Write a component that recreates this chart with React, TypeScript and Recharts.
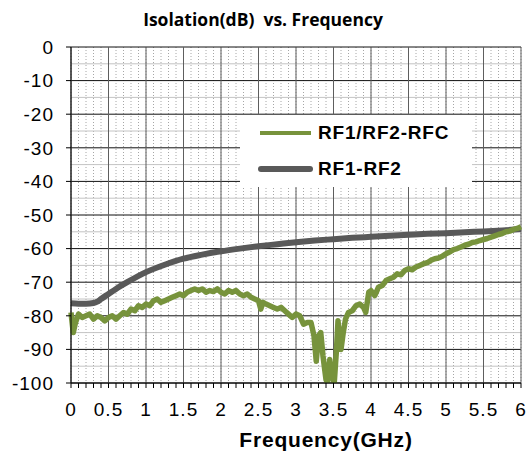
import { CartesianGrid, Legend, Line, LineChart, ReferenceLine, XAxis, YAxis } from "recharts";

// RF1/RF2-RFC isolation (green)
const rfcFreq = [
  0, 0.03, 0.06, 0.1, 0.15, 0.2, 0.25, 0.3, 0.35, 0.4, 0.45, 0.5, 0.55, 0.6, 0.65, 0.7, 0.75, 0.8, 0.85, 0.9,
  0.95, 1, 1.05, 1.1, 1.15, 1.2, 1.25, 1.3, 1.35, 1.4, 1.45, 1.5, 1.55, 1.6, 1.65, 1.7, 1.75, 1.8, 1.85, 1.9,
  1.95, 2, 2.05, 2.1, 2.15, 2.2, 2.25, 2.3, 2.35, 2.4, 2.45, 2.5, 2.53, 2.56, 2.6, 2.65, 2.7, 2.75, 2.8, 2.85,
  2.9, 2.95, 3, 3.05, 3.1, 3.15, 3.2, 3.24, 3.27, 3.3, 3.33, 3.36, 3.4, 3.42, 3.45, 3.48, 3.51, 3.54, 3.56, 3.58,
  3.6, 3.63, 3.66, 3.7, 3.75, 3.8, 3.85, 3.9, 3.93, 3.97, 4, 4.05, 4.1, 4.15, 4.2, 4.25, 4.3, 4.35, 4.4, 4.45,
  4.5, 4.55, 4.6, 4.65, 4.7, 4.75, 4.8, 4.85, 4.9, 4.95, 5, 5.05, 5.1, 5.15, 5.2, 5.25, 5.3, 5.35, 5.4, 5.45,
  5.5, 5.55, 5.6, 5.65, 5.7, 5.75, 5.8, 5.85, 5.9, 5.95, 6,
];
const rfcDb = [
  -79, -85, -82, -79.5, -80.5, -80, -79.5, -81, -80, -80.5, -81.5, -80.5, -80, -81, -80, -79, -79.5, -78, -78.5, -77,
  -77.5, -76.5, -77, -75.5, -75, -76, -75.5, -75, -74.5, -74, -73.5, -74, -73, -72.5, -72, -72.5, -72, -73, -72.5, -72.8,
  -72, -73, -73.5, -72.5, -73, -72.5, -73.5, -74, -73.5, -74.5, -75, -75.5, -78, -76, -76.5, -77, -77.5, -78, -77.5, -78.5,
  -79.5, -80.5, -79.5, -80, -82.5, -82, -82, -86, -93.5, -86, -85, -92, -99, -100, -93, -98, -100, -90, -81.5, -86,
  -90, -85, -81, -79, -78.5, -77, -76.5, -77.5, -79, -73, -72.5, -74, -71.5, -71, -69.5, -69, -68.5, -67.5, -67.8, -66.5,
  -66, -66.3, -65.5, -65, -64.5, -64.2, -63.5, -63, -62.8, -62.3, -61.5, -61, -60.3, -60, -59.5, -59, -58.7, -58.2, -58, -57.6,
  -57.3, -57, -56.6, -56.2, -55.8, -55.5, -55, -54.8, -54.3, -54, -53.5,
];

// RF1-RF2 isolation (gray)
const rfFreq = [0, 0.1, 0.2, 0.3, 0.35, 0.4, 0.5, 0.6, 0.75, 1, 1.25, 1.5, 1.75, 2, 2.25, 2.5, 2.75, 3, 3.25, 3.5, 3.75, 4, 4.25, 4.5, 4.75, 5, 5.25, 5.5, 5.75, 6];
const rfDb = [-76.3, -76.4, -76.4, -76.2, -75.8, -75, -73.5, -72, -70, -67, -64.8, -63, -61.8, -60.8, -60, -59.3, -58.7, -58.1, -57.6, -57.2, -56.8, -56.5, -56.2, -55.9, -55.6, -55.4, -55.1, -54.9, -54.6, -54.2];

const xMajorTicks = [0, 0.5, 1, 1.5, 2, 2.5, 3, 3.5, 4, 4.5, 5, 5.5, 6];
const xMinorTicks = Array.from({ length: 61 }, (_, i) => i / 10);
const yMajorTicks = [0, -10, -20, -30, -40, -50, -60, -70, -80, -90, -100];
const yHalfTicks = [-5, -15, -25, -35, -45, -55, -65, -75, -85, -95];

const GREEN = "#77933c";
const GRAY = "#595959";

const rfcData = rfcFreq.map((f, i) => ({ f, db: rfcDb[i] }));
const rfData = rfFreq.map((f, i) => ({ f, db: rfDb[i] }));

const fmtX = (v: number) => {
  const isMajor = Math.abs(v * 2 - Math.round(v * 2)) < 1e-6;
  return isMajor ? String(Number(v.toFixed(1))) : "";
};

function LegendBox(props: any) {
  const order = ["RF1/RF2-RFC", "RF1-RF2"];
  const items = [...(props.payload || [])].sort(
    (a: any, b: any) => order.indexOf(a.value) - order.indexOf(b.value)
  );
  return (
    <div style={{ width: 232, height: 72, background: "#fff" }}>
      {items.map((it: any) => {
        const green = it.value === "RF1/RF2-RFC";
        return (
          <div key={it.value} style={{ display: "flex", alignItems: "center", height: 36 }}>
            <svg width={78} height={12} style={{ flex: "none" }}>
              <line
                x1={green ? 20 : 21}
                x2={green ? 71 : 70}
                y1={6}
                y2={6}
                stroke={it.color}
                strokeWidth={green ? 4 : 6}
                strokeLinecap={green ? "butt" : "round"}
              />
            </svg>
            <span style={{ fontWeight: 700, fontSize: 19, letterSpacing: 0.8, color: "#000" }}>{it.value}</span>
          </div>
        );
      })}
    </div>
  );
}

export default function App() {
  return (
    <div
      style={{
        position: "relative",
        width: 529,
        height: 457,
        background: "#fff",
        fontFamily: "'Liberation Sans', Arial, sans-serif",
      }}
    >
      <style>{"body{margin:0}"}</style>
      <div
        style={{
          position: "absolute",
          top: 7,
          left: 0,
          width: 526,
          textAlign: "center",
          fontFamily: "'Open Sans', sans-serif",
          fontWeight: 700,
          fontSize: 17.5,
          whiteSpace: "pre",
          color: "#000",
        }}
      >
        {"Isolation(dB)  vs. Frequency"}
      </div>
      <LineChart width={529} height={457} margin={{ top: 47, right: 8, left: 0, bottom: 0 }}>
        <XAxis
          dataKey="f"
          type="number"
          domain={[0, 6]}
          ticks={xMinorTicks}
          interval={0}
          tickFormatter={fmtX}
          height={74}
          tickSize={5}
          tickMargin={15}
          stroke="#000"
          tick={{ fill: "#000", fontSize: 19, letterSpacing: 1 }}
          label={{ value: "Frequency(GHz)", position: "insideBottom", offset: 10, dx: 30, fill: "#000", fontSize: 21, fontWeight: 700, letterSpacing: 0.8 }}
        />
        <YAxis
          type="number"
          domain={[-100, 0]}
          ticks={yMajorTicks}
          interval={0}
          width={71}
          tickSize={5}
          tickMargin={12}
          stroke="#000"
          allowDataOverflow
          tick={{ fill: "#000", fontSize: 19, letterSpacing: 1 }}
        />
        <CartesianGrid horizontal={false} stroke="#a6a6a6" strokeDasharray="1 2" />
        <CartesianGrid vertical={false} stroke="#111" />
        {yHalfTicks.map((t) => (
          <ReferenceLine key={"h" + t} y={t} stroke="#c4c4c4" strokeWidth={1} />
        ))}
        {xMajorTicks.map((t) => (
          <ReferenceLine key={"v" + t} x={t} stroke="#5e5e5e" strokeWidth={1} />
        ))}
        <Line
          data={rfData}
          dataKey="db"
          name="RF1-RF2"
          type="monotone"
          stroke={GRAY}
          strokeWidth={6}
          dot={false}
          isAnimationActive={false}
        />
        <Line
          data={rfcData}
          dataKey="db"
          name="RF1/RF2-RFC"
          type="linear"
          stroke={GREEN}
          strokeWidth={5.5}
          strokeLinejoin="round"
          dot={false}
          isAnimationActive={false}
        />
        <Legend
          layout="horizontal"
          verticalAlign="middle"
          align="center"
          content={<LegendBox />}
          wrapperStyle={{ position: "absolute", left: 240, top: 115, width: 232, height: 72 }}
        />
      </LineChart>
    </div>
  );
}
